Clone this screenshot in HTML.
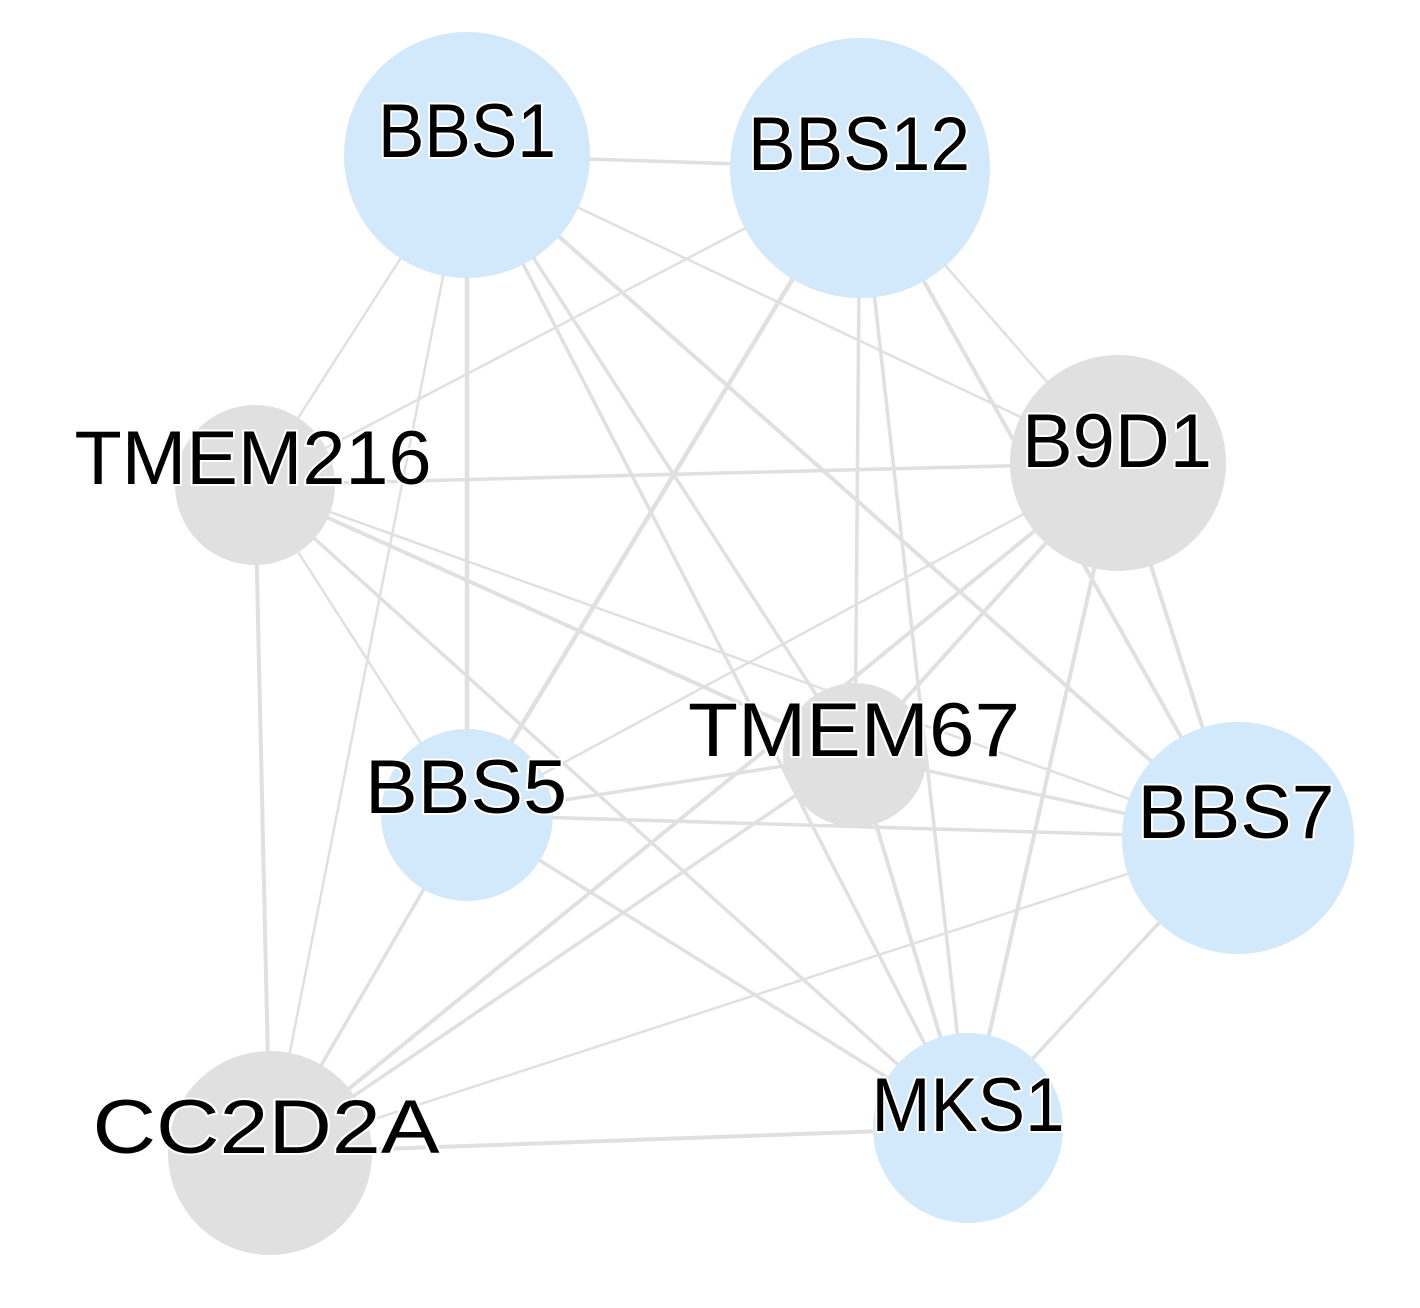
<!DOCTYPE html>
<html><head><meta charset="utf-8"><style>
html,body{margin:0;padding:0;background:#fff;}
svg{display:block;}
text{font-family:"Liberation Sans",sans-serif;font-size:76px;fill:#000;stroke:#fff;stroke-width:4px;paint-order:stroke;text-anchor:middle;}
</style></head><body>
<svg width="1420" height="1308" viewBox="0 0 1420 1308" xmlns="http://www.w3.org/2000/svg">
<g stroke="#e0e0e0" stroke-width="3.5" fill="none">
<line x1="467" y1="155" x2="860" y2="168"/>
<line x1="467" y1="155" x2="255" y2="485" stroke-width="2.5"/>
<line x1="467" y1="155" x2="270" y2="1153" stroke-width="2.5"/>
<line x1="467" y1="155" x2="467" y2="815" stroke-width="4.5"/>
<line x1="467" y1="155" x2="968" y2="1128"/>
<line x1="467" y1="155" x2="1238" y2="838" stroke-width="4"/>
<line x1="467" y1="155" x2="1118" y2="463" stroke-width="2.5"/>
<line x1="467" y1="155" x2="855" y2="755"/>
<line x1="860" y1="168" x2="255" y2="485" stroke-width="2.5"/>
<line x1="860" y1="168" x2="467" y2="815" stroke-width="4.5"/>
<line x1="860" y1="168" x2="855" y2="755"/>
<line x1="860" y1="168" x2="968" y2="1128"/>
<line x1="860" y1="168" x2="1118" y2="463" stroke-width="2.5"/>
<line x1="860" y1="168" x2="1238" y2="838" stroke-width="4"/>
<line x1="255" y1="485" x2="1118" y2="463"/>
<line x1="255" y1="485" x2="270" y2="1153" stroke-width="4"/>
<line x1="255" y1="485" x2="467" y2="815" stroke-width="2.5"/>
<line x1="255" y1="485" x2="968" y2="1128"/>
<line x1="255" y1="485" x2="855" y2="755" stroke-width="4"/>
<line x1="255" y1="485" x2="1238" y2="838" stroke-width="2.5"/>
<line x1="1118" y1="463" x2="467" y2="815" stroke-width="2.5"/>
<line x1="1118" y1="463" x2="855" y2="755" stroke-width="4"/>
<line x1="1118" y1="463" x2="270" y2="1153" stroke-width="4"/>
<line x1="1118" y1="463" x2="968" y2="1128" stroke-width="4"/>
<line x1="1118" y1="463" x2="1238" y2="838" stroke-width="4"/>
<line x1="1150" y1="560" x2="1205" y2="735" stroke-width="2"/>
<line x1="855" y1="755" x2="467" y2="815"/>
<line x1="855" y1="755" x2="1238" y2="838"/>
<line x1="855" y1="755" x2="968" y2="1128" stroke-width="4"/>
<line x1="855" y1="755" x2="270" y2="1153"/>
<line x1="467" y1="815" x2="1238" y2="838"/>
<line x1="467" y1="815" x2="968" y2="1128"/>
<line x1="467" y1="815" x2="270" y2="1153"/>
<line x1="1238" y1="838" x2="968" y2="1128"/>
<line x1="1238" y1="838" x2="270" y2="1153" stroke-width="2.5"/>
<line x1="270" y1="1153" x2="968" y2="1128" stroke-width="4"/>
</g>
<g stroke="none">
<circle cx="467" cy="155" r="123" fill="#d2e8fb"/>
<circle cx="860" cy="168" r="130" fill="#d2e8fb"/>
<circle cx="1118" cy="463" r="108" fill="#e0e0e0"/>
<circle cx="255" cy="485" r="80" fill="#e0e0e0"/>
<circle cx="855" cy="755" r="72" fill="#e0e0e0"/>
<circle cx="467" cy="815" r="86" fill="#d2e8fb"/>
<circle cx="1238" cy="838" r="116" fill="#d2e8fb"/>
<circle cx="270" cy="1153" r="102" fill="#e0e0e0"/>
<circle cx="968" cy="1128" r="95" fill="#d2e8fb"/>
</g>
<text x="467" y="157" textLength="178" lengthAdjust="spacingAndGlyphs">BBS1</text>
<text x="859" y="170" textLength="222" lengthAdjust="spacingAndGlyphs">BBS12</text>
<text x="1117" y="467" textLength="190" lengthAdjust="spacingAndGlyphs">B9D1</text>
<text x="253" y="484" textLength="357" lengthAdjust="spacingAndGlyphs">TMEM216</text>
<text x="854" y="756" textLength="332" lengthAdjust="spacingAndGlyphs">TMEM67</text>
<text x="466" y="813" textLength="202" lengthAdjust="spacingAndGlyphs">BBS5</text>
<text x="1236" y="838" textLength="197" lengthAdjust="spacingAndGlyphs">BBS7</text>
<text x="266" y="1153" textLength="347" lengthAdjust="spacingAndGlyphs">CC2D2A</text>
<text x="968" y="1131" textLength="193" lengthAdjust="spacingAndGlyphs">MKS1</text>
</svg>
</body></html>
